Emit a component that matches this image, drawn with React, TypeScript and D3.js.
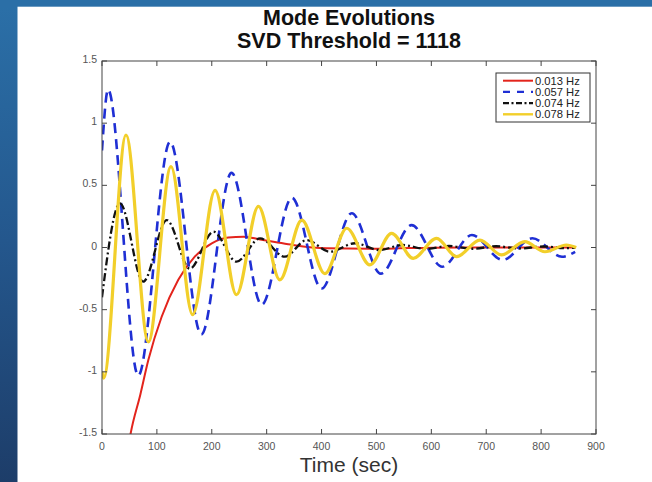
import React from "react";
import * as d3 from "d3";

const W = 652;
const H = 482;

const xTicks = [0, 100, 200, 300, 400, 500, 600, 700, 800, 900];
const yTicks = [1.5, 1, 0.5, 0, -0.5, -1, -1.5];
const yTickLabels = ["1.5", "1", "0.5", "0", "-0.5", "-1", "-1.5"];

const seriesNames = ["0.013 Hz", "0.057 Hz", "0.074 Hz", "0.078 Hz"];

const redT = [48, 52, 70, 84.4, 108.7, 139, 169, 200, 230, 258, 288, 315, 348, 409, 488, 560, 650, 750, 862];
const redV = [-1.6, -1.5, -1.18, -0.905, -0.557, -0.26, -0.074, 0.034, 0.08, 0.087, 0.065, 0.045, 0.02, -0.007, -0.01, -0.005, 0, 0, 0];

const blueT = [0, 11, 66, 124, 181, 236, 291, 346, 400, 455, 508, 564, 620, 674, 730, 784, 838, 862];
const blueV = [0.78, 1.27, -1.03, 0.85, -0.7, 0.6, -0.46, 0.4, -0.33, 0.275, -0.21, 0.18, -0.155, 0.1, -0.1, 0.074, -0.074, -0.035];

const blackT = [0, 32.8, 75, 118, 160, 203, 245, 288, 333, 373, 415, 461, 505, 548, 590, 632, 675, 718, 760, 803, 845, 862];
const blackV = [-0.4, 0.355, -0.275, 0.22, -0.17, 0.127, -0.114, 0.074, -0.074, 0.06, -0.034, 0.034, -0.02, 0.02, -0.012, 0.012, -0.01, 0.01, -0.008, 0.008, -0.005, 0];

const yellowT = [0, 3, 43.7, 84.4, 125.7, 165, 206, 245, 285, 324, 364, 406, 446, 488, 527.6, 567, 609.6, 646, 688.5, 728, 770, 807, 846, 864];
const yellowV = [-1.0, -1.05, 0.905, -0.76, 0.65, -0.54, 0.46, -0.38, 0.33, -0.26, 0.22, -0.21, 0.155, -0.14, 0.114, -0.087, 0.074, -0.074, 0.06, -0.06, 0.047, -0.034, 0.02, 0.0];

const styles = [
  { color: "#e3241c", width: 2, dash: "" },
  { color: "#1f2fd4", width: 2.6, dash: "10,6" },
  { color: "#111111", width: 2.3, dash: "8,3,2,3" },
  { color: "#f2cf2a", width: 3.2, dash: "" },
];

export default function App() {
  const left = 102, right = 596, top = 61, bottom = 434;
  const x = d3.scaleLinear().domain([0, 900]).range([left, right]);
  const y = d3.scaleLinear().domain([-1.5, 1.5]).range([bottom, top]);

  const series = [
    { t: redT, v: redV },
    { t: blueT, v: blueV },
    { t: blackT, v: blackV },
    { t: yellowT, v: yellowV },
  ];

  const line = d3
    .line<[number, number]>()
    .x((d) => x(d[0]))
    .y((d) => y(d[1]))
    .curve(d3.curveMonotoneX);

  const font = "'Liberation Sans', Arial, Helvetica, sans-serif";
  const legX = 496, legY = 73, legW = 94, legH = 49;

  return (
    <svg
      width={W}
      height={H}
      style={{ position: "absolute", left: 0, top: 0, display: "block" }}
      fontFamily={font}
    >
      <defs>
        <linearGradient id="bg" x1="0" y1="0" x2="0" y2="1">
          <stop offset="0" stopColor="#2b70a8" />
          <stop offset="0.5" stopColor="#24578d" />
          <stop offset="1" stopColor="#1d3d69" />
        </linearGradient>
        <clipPath id="plotclip">
          <rect x={left} y={top} width={right - left} height={bottom - top} />
        </clipPath>
      </defs>
      <rect x={0} y={0} width={W} height={H} fill="url(#bg)" />
      <rect x={0} y={0} width={W} height={7} fill="#2b6fa7" />
      <rect x={17.5} y={6.7} width={W - 17.5} height={H - 6.7} fill="#ffffff" />

      {/* title */}
      <text x={(left + right) / 2} y={25} textAnchor="middle" fontWeight="bold" fontSize={21.5} fill="#111">
        Mode Evolutions
      </text>
      <text x={(left + right) / 2} y={48.3} textAnchor="middle" fontWeight="bold" fontSize={21.5} fill="#111">
        SVD Threshold = 1118
      </text>

      {/* series */}
      <g clipPath="url(#plotclip)">
        {series.map((s, i) => (
          <path
            key={i}
            d={line(s.t.map((t, j) => [t, s.v[j]] as [number, number])) || ""}
            fill="none"
            stroke={styles[i].color}
            strokeWidth={styles[i].width}
            strokeDasharray={styles[i].dash || undefined}
            strokeLinejoin="round"
          />
        ))}
      </g>

      {/* axes box */}
      <rect x={left} y={top} width={right - left} height={bottom - top} fill="none" stroke="#444" strokeWidth={1} />
      {xTicks.map((t) => (
        <g key={"xt" + t}>
          <line x1={x(t)} x2={x(t)} y1={bottom} y2={bottom - 5} stroke="#444" />
          <line x1={x(t)} x2={x(t)} y1={top} y2={top + 5} stroke="#444" />
          <text x={x(t)} y={450} textAnchor="middle" fontSize={10.5} fill="#555">
            {t}
          </text>
        </g>
      ))}
      {yTicks.map((t, i) => (
        <g key={"yt" + t}>
          <line x1={left} x2={left + 5} y1={y(t)} y2={y(t)} stroke="#444" />
          <line x1={right} x2={right - 5} y1={y(t)} y2={y(t)} stroke="#444" />
          <text x={97} y={y(t) + 2} textAnchor="end" fontSize={10.5} fill="#555">
            {yTickLabels[i]}
          </text>
        </g>
      ))}

      {/* x label */}
      <text x={(left + right) / 2} y={471.7} textAnchor="middle" fontSize={21} fill="#333">
        Time (sec)
      </text>

      {/* legend */}
      <rect x={legX} y={legY} width={legW} height={legH} fill="#fff" stroke="#333" strokeWidth={1} />
      {seriesNames.map((n, i) => {
        const cy = 80.7 + i * 11.2;
        return (
          <g key={n}>
            <line
              x1={503}
              x2={533}
              y1={cy}
              y2={cy}
              stroke={styles[i].color}
              strokeWidth={Math.min(styles[i].width, 2.4)}
              strokeDasharray={i === 1 ? "7,7" : i === 2 ? "6,2.5,2,2.5" : undefined}
            />
            <text x={535} y={cy + 3.8} fontSize={11.2} fill="#222">
              {n}
            </text>
          </g>
        );
      })}
    </svg>
  );
}
